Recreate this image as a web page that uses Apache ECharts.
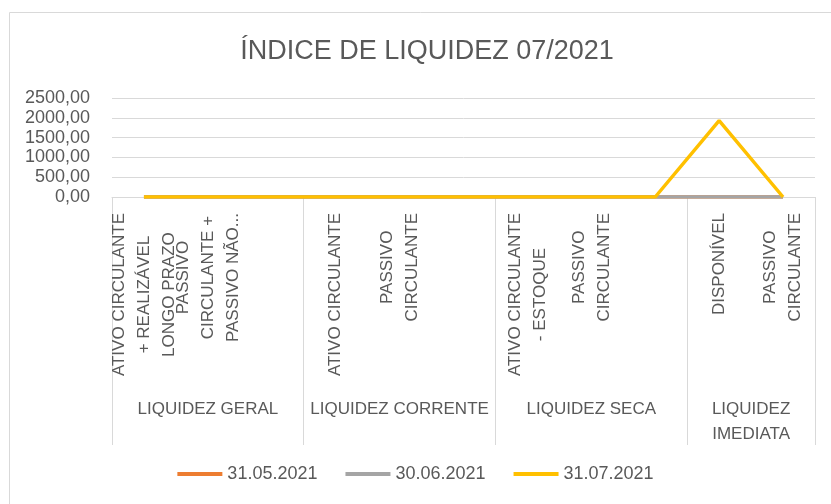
<!DOCTYPE html>
<html><head><meta charset="utf-8">
<script src="https://cdn.jsdelivr.net/npm/echarts@6/dist/echarts.min.js"></script>
<style>html,body{margin:0;padding:0;background:#fff}#c{width:831px;height:504px}</style>
</head><body><div id="c"></div>
<script>
const title = 'ÍNDICE DE LIQUIDEZ 07/2021';
const categories = ['ATIVO CIRCULANTE\n+ REALIZÁVEL\nLONGO PRAZO', 'PASSIVO\nCIRCULANTE +\nPASSIVO NÃO...', '', 'ATIVO CIRCULANTE', 'PASSIVO\nCIRCULANTE', '', 'ATIVO CIRCULANTE\n- ESTOQUE', 'PASSIVO\nCIRCULANTE', '', 'DISPONÍVEL', 'PASSIVO\nCIRCULANTE'];
const groups = ['LIQUIDEZ GERAL', 'LIQUIDEZ CORRENTE', 'LIQUIDEZ SECA', 'LIQUIDEZ\nIMEDIATA'];
const groupSpans = [3, 3, 3, 2];
const seriesNames = ['31.05.2021', '30.06.2021', '31.07.2021'];
const may = [0, 0, 0, 0, 0, 0, 0, 0, 0, 0, 0];
const jun = [0, 0, 0, 0, 0, 0, 0, 0, 0, 0, 0];
const jul = [0, 0, 0, 0, 0, 0, 0, 0, 0, 1930, 0];
const yMin = 0, yMax = 2500, yStep = 500;

const FONT = "'Liberation Sans', Arial, sans-serif";
const TXT = '#595959';
const GRID = '#d9d9d9';

const bounds = [0]; const centers = [];
groupSpans.forEach((s, i) => { centers.push(bounds[i] + s / 2); bounds.push(bounds[i] + s); });

const chart = echarts.init(document.getElementById('c'), null, {renderer: 'canvas'});
chart.setOption({
  animation: false,
  textStyle: {fontFamily: FONT},
  graphic: [{type: 'rect', shape: {x: 9.5, y: 12.5, width: 900, height: 700}, style: {fill: 'none', stroke: GRID, lineWidth: 1}, silent: true}],
  title: {text: title, left: 422, top: 33, textAlign: 'center',
    textStyle: {fontFamily: FONT, fontSize: 27, fontWeight: 'normal', color: TXT}},
  legend: {data: seriesNames, top: 460, left: 'center', icon: 'rect', itemWidth: 45, itemHeight: 4, itemGap: 28,
    textStyle: {fontFamily: FONT, fontSize: 18, color: TXT}},
  grid: {left: 112, right: 16, top: 98, bottom: 307, containLabel: false},
  xAxis: [{
    type: 'category', data: categories, boundaryGap: true,
    axisLine: {show: true, lineStyle: {color: GRID, width: 1}},
    axisTick: {show: false},
    axisLabel: {interval: 0, rotate: 90, margin: 16, color: TXT, fontSize: 17, fontFamily: FONT,
      formatter: v => v.split('\n').map(l => '{c|' + l + '}').join('\n'),
      rich: {c: {align: 'center', lineHeight: 25, fontSize: 17, color: TXT, fontFamily: FONT}}}
  }, {
    type: 'value', min: 0, max: bounds[bounds.length - 1], position: 'bottom', offset: 0,
    axisLine: {show: false}, splitLine: {show: false},
    axisTick: {show: true, customValues: bounds, length: 248, lineStyle: {color: GRID, width: 1}},
    axisLabel: {customValues: centers, margin: 200, color: TXT, fontSize: 17, fontFamily: FONT, lineHeight: 25, align: 'center', verticalAlign: 'top',
      formatter: v => { const i = centers.indexOf(v); return i >= 0 ? groups[i] : ''; }}
  }],
  yAxis: {type: 'value', min: yMin, max: yMax, interval: yStep,
    axisLine: {show: false}, axisTick: {show: false},
    splitLine: {lineStyle: {color: GRID, width: 1}},
    axisLabel: {margin: 22, color: TXT, fontSize: 18, fontFamily: FONT, formatter: v => v.toFixed(2).replace('.', ',')}},
  series: [
    {name: seriesNames[0], type: 'line', data: may, xAxisIndex: 0, symbol: 'none', lineStyle: {width: 3.5, color: '#ED7D31'}, itemStyle: {color: '#ED7D31'}},
    {name: seriesNames[1], type: 'line', data: jun, xAxisIndex: 0, symbol: 'none', lineStyle: {width: 3.5, color: '#A5A5A5'}, itemStyle: {color: '#A5A5A5'}},
    {name: seriesNames[2], type: 'line', data: jul, xAxisIndex: 0, symbol: 'none', lineStyle: {width: 3.5, color: '#FFC000'}, itemStyle: {color: '#FFC000'}}
  ]
});
</script></body></html>
